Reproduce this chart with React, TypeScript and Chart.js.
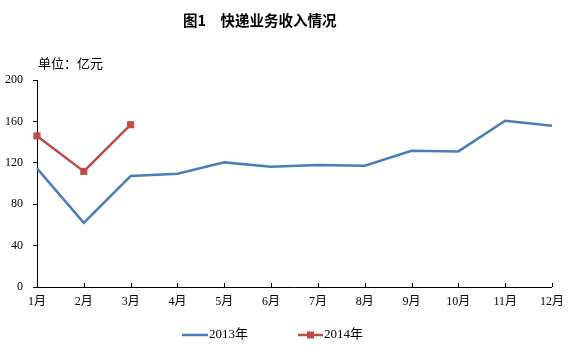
import React, { useEffect, useRef } from "react";
import { Chart, registerables } from "chart.js";

Chart.register(...registerables);

const months = ["1月", "2月", "3月", "4月", "5月", "6月", "7月", "8月", "9月", "10月", "11月", "12月"];
const revenue2013 = [114.6, 62, 107.2, 109.4, 120.4, 116.2, 117.8, 117.1, 131.7, 131, 160.7, 155.9];
const revenue2014 = [146, 111.7, 156.8];
const seriesNames = ["2013年", "2014年"];
const yMin = 0;
const yMax = 200;
const yStep = 40;
const titleText = "图1　快递业务收入情况";
const unitText = "单位：亿元";

const BLUE = "#4A7EBB";
const RED = "#BE4B48";
const SERIF = "'Liberation Serif', 'Noto Sans CJK SC', serif";
const CJK = "'Noto Sans CJK SC', sans-serif";

const decorPlugin = {
  id: "decor",
  afterDraw(chart: any) {
    const ctx = chart.ctx;
    const area = chart.chartArea;
    const xs = chart.scales.x;
    ctx.save();
    ctx.strokeStyle = "#000";
    ctx.lineWidth = 1;
    for (let i = 0; i < months.length; i++) {
      const px = Math.round(xs.getPixelForValue(i)) + 0.5;
      ctx.beginPath();
      ctx.moveTo(px, area.bottom);
      ctx.lineTo(px, area.bottom - 4);
      ctx.stroke();
    }
    ctx.fillStyle = "#000";
    ctx.textBaseline = "middle";
    ctx.textAlign = "left";
    ctx.font = "bold 14.5px " + CJK;
    ctx.fillText(titleText, 183, 20);
    ctx.font = "13px " + CJK;
    ctx.fillText(unitText, 38, 63);
    const ly = 335;
    ctx.lineWidth = 2.5;
    ctx.strokeStyle = BLUE;
    ctx.beginPath();
    ctx.moveTo(182, ly);
    ctx.lineTo(208, ly);
    ctx.stroke();
    ctx.font = "13px " + SERIF;
    ctx.fillStyle = "#000";
    ctx.fillText(seriesNames[0], 209, ly);
    ctx.strokeStyle = RED;
    ctx.beginPath();
    ctx.moveTo(298, ly);
    ctx.lineTo(323, ly);
    ctx.stroke();
    ctx.fillStyle = RED;
    ctx.fillRect(307, ly - 3.5, 7, 7);
    ctx.fillStyle = "#000";
    ctx.fillText(seriesNames[1], 324, ly);
    ctx.restore();
  },
};

export default function App() {
  const ref = useRef<HTMLCanvasElement | null>(null);
  useEffect(() => {
    if (!ref.current) return;
    const chart = new Chart(ref.current, {
      type: "line",
      data: {
        labels: months,
        datasets: [
          {
            label: seriesNames[0],
            data: revenue2013,
            borderColor: BLUE,
            backgroundColor: BLUE,
            borderWidth: 2.5,
            pointRadius: 0,
            tension: 0,
          },
          {
            label: seriesNames[1],
            data: revenue2014,
            borderColor: RED,
            backgroundColor: RED,
            borderWidth: 2.5,
            pointStyle: "rect",
            pointRadius: 5,
            pointBorderWidth: 0,
            tension: 0,
          },
        ],
      },
      options: {
        animation: false,
        responsive: false,
        maintainAspectRatio: false,
        layout: { padding: { left: 0, right: 16, top: 80, bottom: 34 } },
        plugins: {
          legend: { display: false },
          title: { display: false },
          tooltip: { enabled: false },
        },
        scales: {
          x: {
            offset: false,
            grid: { display: true, drawOnChartArea: false, drawTicks: false },
            border: { display: true, color: "#000", width: 1 },
            ticks: { color: "#000", padding: 8, font: { family: SERIF, size: 12 }, maxRotation: 0, autoSkip: false },
            afterFit: (s: any) => { s.height = 30; },
          },
          y: {
            min: yMin,
            max: yMax,
            grid: { display: true, drawOnChartArea: false, drawTicks: true, tickLength: 4, color: "#000" },
            border: { display: true, color: "#000", width: 1 },
            ticks: { stepSize: yStep, color: "#000", padding: 10, font: { family: SERIF, size: 12 } },
            afterFit: (s: any) => { s.width = 37; },
          },
        },
      },
      plugins: [decorPlugin],
    });
    return () => chart.destroy();
  }, []);
  return (
    <div style={{ position: "fixed", left: 0, top: 0, width: 572, height: 351, background: "#fff" }}>
      <canvas ref={ref} width={572} height={351} style={{ width: 572, height: 351, display: "block" }} />
    </div>
  );
}
